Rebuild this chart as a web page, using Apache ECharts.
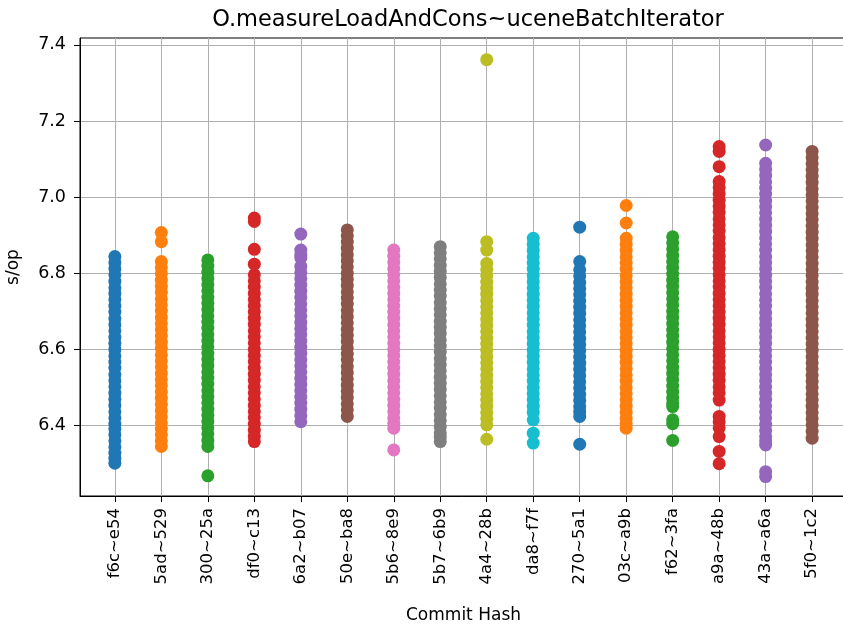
<!DOCTYPE html>
<html>
<head>
<meta charset="utf-8">
<script src="https://cdn.jsdelivr.net/npm/echarts@6/dist/echarts.min.js"></script>
<style>
  html, body { margin: 0; padding: 0; background: #fff; }
  #main { width: 843px; height: 630px; }
</style>
</head>
<body>
<div id="main"></div>
<script>
const hashes = ['f6c~e54', '5ad~529', '300~25a', 'df0~c13', '6a2~b07', '50e~ba8', '5b6~8e9', '5b7~6b9',
  '4a4~28b', 'da8~f7f', '270~5a1', '03c~a9b', 'f62~3fa', 'a9a~48b', '43a~a6a', '5f0~1c2'];

const yTicks = [6.4, 6.6, 6.8, 7.0, 7.2, 7.4];

// s/op samples (dense parts listed top to bottom)
const f6c = [6.844, 6.828, 6.812, 6.796, 6.779, 6.762, 6.747, 6.731, 6.714, 6.698, 6.681, 6.665, 6.649, 6.632, 6.616, 6.600, 6.583, 6.567, 6.551, 6.534, 6.518, 6.502, 6.485, 6.469, 6.453, 6.436, 6.420, 6.404, 6.392, 6.376, 6.360, 6.344, 6.328, 6.314, 6.301];
const s5ad = [6.907, 6.883, 6.831, 6.815, 6.799, 6.782, 6.766, 6.750, 6.733, 6.717, 6.701, 6.684, 6.668, 6.652, 6.635, 6.619, 6.603, 6.586, 6.570, 6.554, 6.537, 6.521, 6.505, 6.488, 6.472, 6.456, 6.439, 6.423, 6.407, 6.391, 6.375, 6.360, 6.345];
const s300 = [6.835, 6.819, 6.803, 6.786, 6.770, 6.754, 6.737, 6.721, 6.705, 6.688, 6.672, 6.656, 6.639, 6.623, 6.607, 6.590, 6.574, 6.558, 6.541, 6.525, 6.509, 6.492, 6.476, 6.460, 6.443, 6.427, 6.411, 6.394, 6.378, 6.361, 6.345, 6.268];
const df0 = [6.945, 6.936, 6.863, 6.824, 6.796, 6.780, 6.764, 6.747, 6.731, 6.715, 6.698, 6.682, 6.666, 6.649, 6.633, 6.617, 6.600, 6.584, 6.568, 6.551, 6.535, 6.519, 6.502, 6.486, 6.470, 6.453, 6.437, 6.421, 6.404, 6.388, 6.372, 6.358];
const s6a2 = [6.903, 6.861, 6.848, 6.840, 6.818, 6.802, 6.786, 6.769, 6.753, 6.737, 6.720, 6.704, 6.688, 6.671, 6.655, 6.639, 6.622, 6.606, 6.590, 6.573, 6.557, 6.541, 6.524, 6.508, 6.492, 6.475, 6.459, 6.443, 6.426, 6.410];
const s50e = [6.914, 6.898, 6.882, 6.866, 6.849, 6.833, 6.817, 6.800, 6.784, 6.768, 6.751, 6.735, 6.719, 6.702, 6.686, 6.670, 6.653, 6.637, 6.621, 6.604, 6.588, 6.572, 6.555, 6.539, 6.523, 6.506, 6.490, 6.474, 6.457, 6.441, 6.424];
const s5b6 = [6.861, 6.845, 6.829, 6.812, 6.796, 6.780, 6.763, 6.747, 6.731, 6.714, 6.698, 6.682, 6.665, 6.649, 6.633, 6.616, 6.600, 6.584, 6.567, 6.551, 6.535, 6.518, 6.502, 6.486, 6.469, 6.453, 6.437, 6.420, 6.406, 6.393, 6.336];
const s5b7 = [6.870, 6.854, 6.838, 6.821, 6.805, 6.789, 6.772, 6.756, 6.740, 6.723, 6.707, 6.691, 6.674, 6.658, 6.642, 6.625, 6.609, 6.593, 6.576, 6.560, 6.544, 6.527, 6.511, 6.495, 6.478, 6.462, 6.446, 6.429, 6.413, 6.397, 6.381, 6.370, 6.358];
const s4a4 = [7.361, 6.883, 6.861, 6.826, 6.810, 6.794, 6.777, 6.761, 6.745, 6.728, 6.712, 6.696, 6.679, 6.663, 6.647, 6.630, 6.614, 6.598, 6.581, 6.565, 6.549, 6.532, 6.516, 6.500, 6.483, 6.467, 6.451, 6.434, 6.418, 6.402, 6.364];
const da8 = [6.892, 6.876, 6.860, 6.843, 6.827, 6.811, 6.794, 6.778, 6.762, 6.745, 6.729, 6.713, 6.696, 6.680, 6.664, 6.647, 6.631, 6.615, 6.598, 6.582, 6.566, 6.549, 6.533, 6.517, 6.500, 6.484, 6.468, 6.451, 6.435, 6.415, 6.380, 6.354];
const s270 = [6.921, 6.831, 6.809, 6.793, 6.776, 6.760, 6.744, 6.727, 6.711, 6.695, 6.678, 6.662, 6.646, 6.629, 6.613, 6.597, 6.580, 6.564, 6.548, 6.531, 6.515, 6.499, 6.482, 6.466, 6.450, 6.437, 6.424, 6.351];
const s03c = [6.978, 6.932, 6.892, 6.876, 6.860, 6.843, 6.827, 6.811, 6.794, 6.778, 6.762, 6.745, 6.729, 6.713, 6.696, 6.680, 6.664, 6.647, 6.631, 6.615, 6.598, 6.582, 6.566, 6.549, 6.533, 6.517, 6.500, 6.484, 6.468, 6.451, 6.435, 6.419, 6.405, 6.393];
const f62 = [6.896, 6.880, 6.864, 6.847, 6.831, 6.815, 6.798, 6.782, 6.766, 6.749, 6.733, 6.717, 6.700, 6.684, 6.668, 6.651, 6.635, 6.619, 6.602, 6.586, 6.570, 6.553, 6.537, 6.521, 6.504, 6.488, 6.472, 6.458, 6.450, 6.415, 6.405, 6.361];
const a9a = [7.133, 7.120, 7.080, 7.041, 7.025, 7.009, 6.992, 6.976, 6.960, 6.943, 6.927, 6.911, 6.894, 6.878, 6.862, 6.845, 6.829, 6.813, 6.796, 6.780, 6.764, 6.747, 6.731, 6.715, 6.698, 6.682, 6.666, 6.649, 6.633, 6.617, 6.600, 6.584, 6.568, 6.551, 6.535, 6.519, 6.502, 6.486, 6.467, 6.424, 6.410, 6.394, 6.371, 6.332, 6.300];
const s43a = [7.137, 7.089, 7.073, 7.057, 7.040, 7.024, 7.008, 6.991, 6.975, 6.959, 6.942, 6.926, 6.910, 6.893, 6.877, 6.861, 6.844, 6.828, 6.812, 6.795, 6.779, 6.763, 6.746, 6.730, 6.714, 6.697, 6.681, 6.665, 6.648, 6.632, 6.616, 6.599, 6.583, 6.567, 6.550, 6.534, 6.518, 6.501, 6.485, 6.469, 6.452, 6.436, 6.420, 6.403, 6.387, 6.371, 6.360, 6.349, 6.279, 6.266];
const s5f0 = [7.120, 7.104, 7.088, 7.071, 7.055, 7.039, 7.022, 7.006, 6.990, 6.973, 6.957, 6.941, 6.924, 6.908, 6.892, 6.875, 6.859, 6.843, 6.826, 6.810, 6.794, 6.777, 6.761, 6.745, 6.728, 6.712, 6.696, 6.679, 6.663, 6.647, 6.630, 6.614, 6.598, 6.581, 6.565, 6.549, 6.532, 6.516, 6.500, 6.483, 6.467, 6.451, 6.434, 6.418, 6.402, 6.385, 6.367];

const samples = [f6c, s5ad, s300, df0, s6a2, s50e, s5b6, s5b7, s4a4, da8, s270, s03c, f62, a9a, s43a, s5f0];

// matplotlib tab10
const colors = ['#1f77b4', '#ff7f0e', '#2ca02c', '#d62728', '#9467bd', '#8c564b', '#e377c2', '#7f7f7f', '#bcbd22', '#17becf'];

const myChart = echarts.init(document.getElementById('main'));

const xPos = hashes.map((h, i) => i);

const seriesData = samples.map((vals, i) => {
  return {
    name: hashes[i],
    type: 'scatter',
    symbolSize: 13,
    data: vals.map(v => [i, v]),
    itemStyle: {
      color: colors[i % colors.length],
      opacity: 1
    }
  };
});

const font = 'DejaVu Sans';

const option = {
  backgroundColor: '#ffffff',
  animation: false,
  title: {
    text: 'O.measureLoadAndCons~uceneBatchIterator',
    left: 463,
    top: 4,
    textAlign: 'center',
    textStyle: {
      fontFamily: font,
      fontSize: 22.5,
      fontWeight: 'normal',
      color: '#000'
    }
  },
  grid: {
    left: 80,
    width: 767, // the right spine sits just past the picture edge
    top: 38,
    bottom: 134,
    outerBoundsMode: 'none',
    containLabel: false,
    show: true,
    borderColor: '#000',
    borderWidth: 1,
    backgroundColor: 'transparent'
  },
  xAxis: {
    type: 'value',
    min: -0.75,
    max: 15.75,
    name: 'Commit Hash',
    nameLocation: 'middle',
    nameGap: 111,
    nameTextStyle: { fontFamily: font, fontSize: 17, color: '#000' },
    axisLine: { show: true, onZero: false, lineStyle: { color: '#000', width: 1 } },
    axisTick: { show: true, length: 6, customValues: xPos, lineStyle: { color: '#000' } },
    axisLabel: {
      customValues: xPos,
      rotate: 90,
      margin: 12,
      fontFamily: font,
      fontSize: 16.5,
      color: '#000',
      formatter: v => hashes[Math.round(v)]
    },
    splitLine: { show: true, lineStyle: { color: '#b0b0b0', width: 1 } }
  },
  yAxis: {
    type: 'value',
    min: 6.215,
    max: 7.418,
    name: 's/op',
    nameLocation: 'middle',
    nameGap: 58,
    nameTextStyle: { fontFamily: font, fontSize: 17, color: '#000' },
    axisLine: { show: true, onZero: false, lineStyle: { color: '#000', width: 1 } },
    axisTick: { show: true, length: 6, customValues: yTicks, lineStyle: { color: '#000' } },
    axisLabel: {
      customValues: yTicks,
      margin: 14,
      fontFamily: font,
      fontSize: 17.5,
      color: '#000',
      formatter: v => v.toFixed(1)
    },
    splitLine: { show: true, lineStyle: { color: '#b0b0b0', width: 1 } }
  },
  series: seriesData
};

myChart.setOption(option);
</script>
</body>
</html>
